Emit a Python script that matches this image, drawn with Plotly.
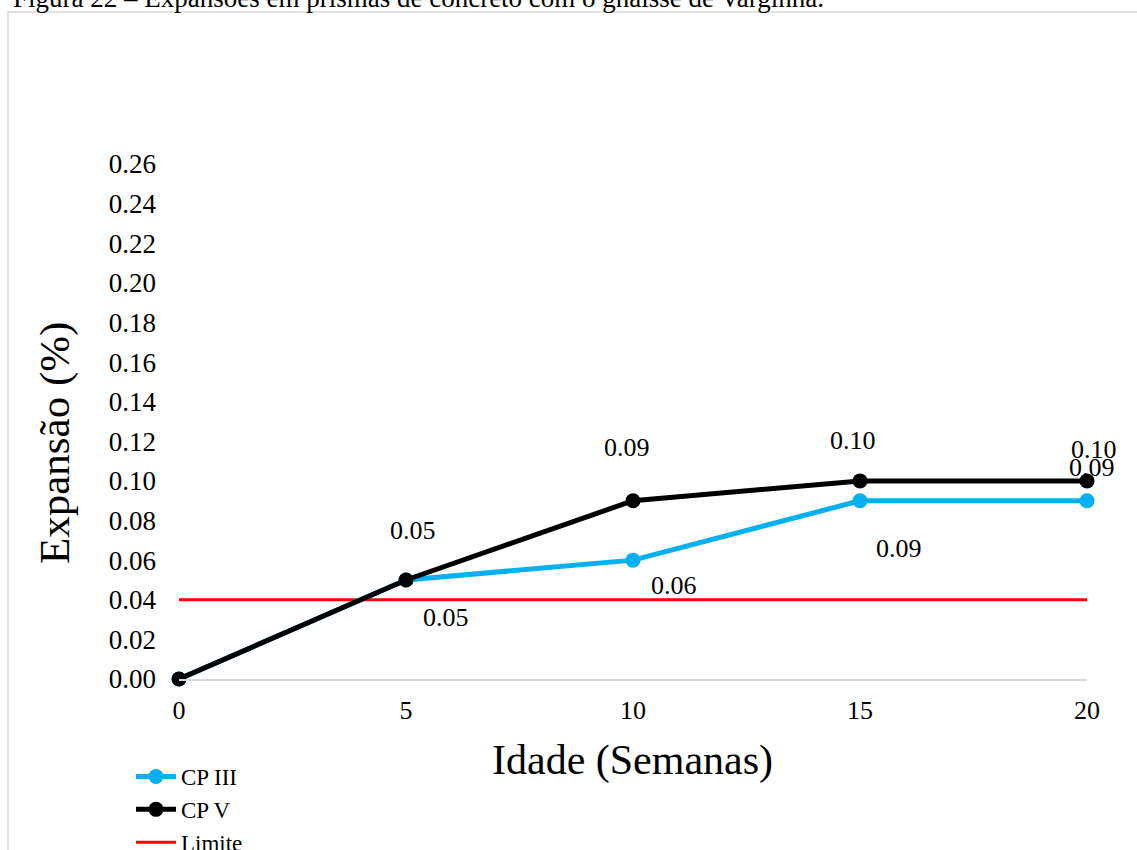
import plotly.graph_objects as go

# Expansion of concrete prisms (%), by age in weeks
idade = [0, 5, 10, 15, 20]
cp_iii = [0.00, 0.05, 0.06, 0.09, 0.09]
cp_v = [0.00, 0.05, 0.09, 0.10, 0.10]
limite = [0.04, 0.04, 0.04, 0.04, 0.04]
y_ticks = [0.00, 0.02, 0.04, 0.06, 0.08, 0.10, 0.12, 0.14, 0.16, 0.18, 0.20, 0.22, 0.24, 0.26]
x_ticks = [0, 5, 10, 15, 20]

FONT = "Liberation Serif, Times New Roman, serif"
W, H = 1137, 850
L, R, T, B = 179, 50, 164, 171
plot_w = W - L - R
plot_h = H - T - B


def px_x(px):
    return (px - L) / plot_w


def px_y(py):
    return (H - B - py) / plot_h


fig = go.Figure()
fig.add_trace(go.Scatter(
    x=idade, y=limite, name="Limite", mode="lines",
    line=dict(color="#FF0000", width=3), cliponaxis=False, legendrank=3))
fig.add_trace(go.Scatter(
    x=idade, y=cp_iii, name="CP III", mode="lines+markers",
    line=dict(color="#00B0F0", width=5), marker=dict(size=15, color="#00B0F0"),
    cliponaxis=False, legendrank=1))
fig.add_trace(go.Scatter(
    x=idade, y=cp_v, name="CP V", mode="lines+markers",
    line=dict(color="#000000", width=5), marker=dict(size=15, color="#000000"),
    cliponaxis=False, legendrank=2))

# value labels (point at x=0 is not labelled)
cpv_shift = [None, (7, 49), (-6, 53), (-7, 40), (7, 31)]
cpiii_shift = [None, (40, -38), (41, -25), (39, -48), (5, 33)]
annotations = []
for xs, ys, shifts in ((idade, cp_v, cpv_shift), (idade, cp_iii, cpiii_shift)):
    for xv, yv, sh in zip(xs, ys, shifts):
        if sh is None:
            continue
        annotations.append(dict(
            x=xv, y=yv, xref="x", yref="y", text=f"{yv:.2f}", showarrow=False,
            xshift=sh[0], yshift=sh[1], font=dict(family=FONT, size=26, color="#000000")))

# axis titles
annotations.append(dict(
    x=px_x(632), y=px_y(760), xref="paper", yref="paper", text="Idade (Semanas)",
    xanchor="center", yanchor="middle",
    showarrow=False, font=dict(family=FONT, size=42, color="#000000")))
annotations.append(dict(
    x=px_x(55), y=px_y(443), xref="paper", yref="paper", text="Expansão (%)",
    xanchor="center", yanchor="middle",
    textangle=-90, showarrow=False, font=dict(family=FONT, size=43, color="#000000")))
# figure caption
annotations.append(dict(
    x=px_x(11), y=px_y(-2), xref="paper", yref="paper", xanchor="left", yanchor="middle",
    text="Figura 22 – Expansões em prismas de concreto com o gnaisse de Varginha.",
    showarrow=False, font=dict(family=FONT, size=27, color="#000000")))

fig.update_layout(
    width=W, height=H, autosize=False,
    margin=dict(l=L, r=R, t=T, b=B, pad=0, autoexpand=False),
    paper_bgcolor="white", plot_bgcolor="white",
    font=dict(family=FONT, size=26, color="#000000"),
    showlegend=True,
    legend=dict(
        x=px_x(131), y=px_y(755), xanchor="left", yanchor="top",
        traceorder="normal", bgcolor="rgba(0,0,0,0)",
        font=dict(family=FONT, size=23, color="#000000"),
        itemwidth=40, tracegroupgap=0),
    annotations=annotations,
    shapes=[dict(
        type="rect", xref="paper", yref="paper",
        x0=px_x(8), x1=px_x(1200), y0=px_y(12), y1=px_y(900),
        line=dict(color="#D9D9D9", width=1.5), fillcolor="rgba(0,0,0,0)", layer="below")],
    xaxis=dict(
        range=[0, 20], tickvals=x_ticks, ticktext=[str(v) for v in x_ticks],
        showgrid=False, zeroline=False, showline=True, linecolor="#D9D9D9", linewidth=1.5,
        ticks="", ticklabelstandoff=7, tickfont=dict(family=FONT, size=26)),
    yaxis=dict(
        range=[0, 0.26], tickvals=y_ticks, ticktext=[f"{v:.2f}" for v in y_ticks],
        showgrid=False, zeroline=False, showline=False,
        ticks="", ticklabelstandoff=22, tickfont=dict(family=FONT, size=27)),
)

fig.write_html("out.html")
